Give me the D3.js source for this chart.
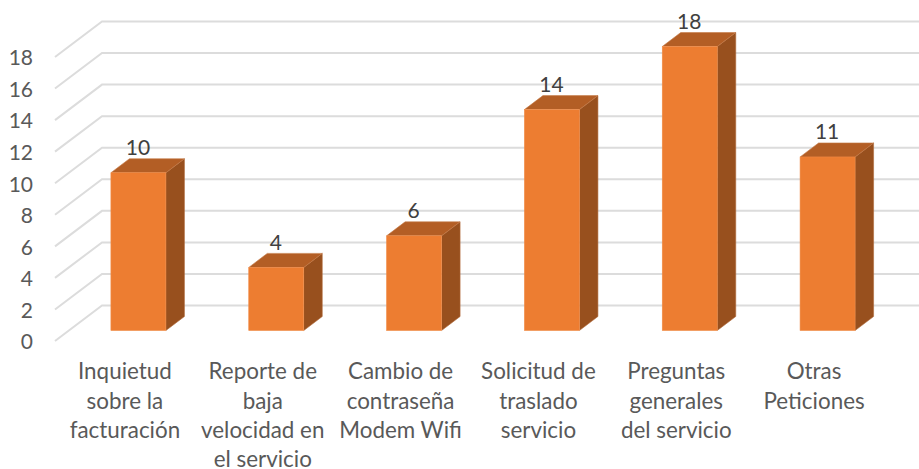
<!DOCTYPE html>
<html><head><meta charset="utf-8">
<style>html,body{margin:0;padding:0;background:#fff}svg{display:block}text{font-family:Lato,"Open Sans",sans-serif}</style>
<script src="https://cdn.jsdelivr.net/npm/d3@7/dist/d3.min.js"></script></head>
<body><svg id="c" width="919" height="469"></svg>
<script>
const categories = [
  ["Inquietud","sobre la","facturación"],
  ["Reporte de","baja","velocidad en","el servicio"],
  ["Cambio de","contraseña","Modem Wifi"],
  ["Solicitud de","traslado","servicio"],
  ["Preguntas","generales","del servicio"],
  ["Otras","Peticiones"]
];
const values = [10,4,6,14,18,11];
const tickValues = [0,2,4,6,8,10,12,14,16,18];

const svg = d3.select("#c");
const x = d3.scaleBand().domain(d3.range(categories.length)).range([55,882]);
const y = d3.scaleLinear().domain([0,18]).range([341,57]);
const wall = {dx:47, dy:-35.5};
const bar = {w:55, ox:14.5, oy:-10.5, dx:18.5, dy:-14};
const grid = "#dcdcdc";

const g = svg.append("g");
tickValues.forEach(t=>{
  const y0 = y(t), y1 = y0+wall.dy;
  g.append("path").attr("d",d3.line()([[55,y0],[55+wall.dx,y1],[919,y1]]))
   .attr("fill","none").attr("stroke",grid).attr("stroke-width",2);
  svg.append("text").attr("x",33).attr("y",y0+1).attr("dy","0.35em")
   .attr("text-anchor","end").attr("font-size",21).attr("fill","#595959").text(t);
});

values.forEach((v,i)=>{
  const l = x(i)+x.bandwidth()/2+bar.ox-bar.w/2, r = l+bar.w;
  const t = y(v)+bar.oy, b = y(0)+bar.oy;
  const bg = svg.append("g");
  bg.append("path").attr("d",d3.line()([[r,t],[r+bar.dx,t+bar.dy],[r+bar.dx,b+bar.dy],[r,b]]))
    .attr("fill","#98501e").attr("stroke","#b0693a").attr("stroke-width",.6);
  bg.append("path").attr("d",d3.line()([[l,t],[l+bar.dx,t+bar.dy],[r+bar.dx,t+bar.dy],[r,t]]))
    .attr("fill","#b35e25").attr("stroke","#c47a48").attr("stroke-width",.6);
  bg.append("rect").attr("x",l).attr("y",t).attr("width",bar.w).attr("height",b-t)
    .attr("fill","#ed7d31").attr("stroke","#f08a45").attr("stroke-width",.6);
  svg.append("text").attr("x",(l+r)/2-0.5).attr("y",t-25).attr("dy","0.35em")
    .attr("text-anchor","middle").attr("font-size",21).attr("fill","#404040").text(v);
  const cx = x(i)+x.bandwidth()/2+1;
  categories[i].forEach((s,j)=>{
    svg.append("text").attr("x",cx).attr("y",371.5+j*29.2).attr("dy","0.35em")
      .attr("text-anchor","middle").attr("font-size",22.4).attr("fill","#595959").text(s);
  });
});
</script></body></html>
